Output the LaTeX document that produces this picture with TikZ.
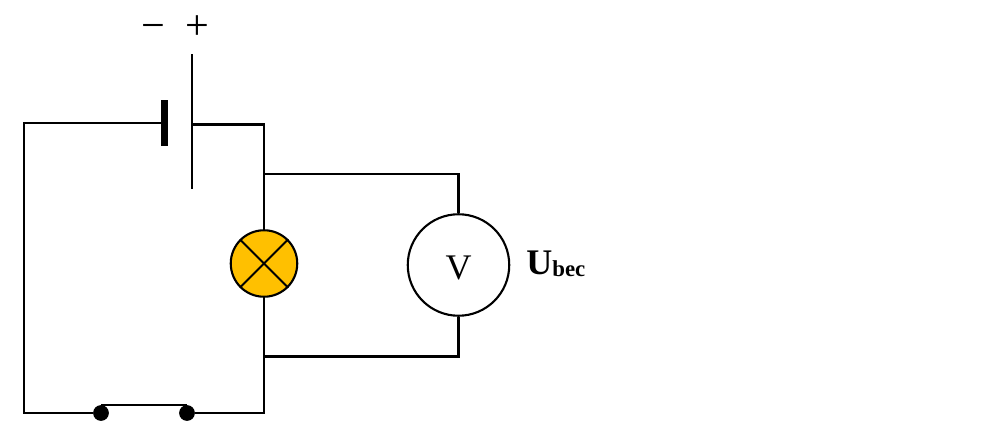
\documentclass[tikz,border=0pt]{standalone}
\usepackage{fontspec}
\setmainfont{Liberation Serif}
\usetikzlibrary{positioning}

\definecolor{lampfill}{HTML}{FFC000}

\begin{document}
\begin{tikzpicture}[
  x=0.02cm, y=-0.02cm,
  wire/.style={line width=0.042cm, line join=miter},
  plate/.style={draw=none, fill=black, inner sep=0pt},
  contact/.style={circle, fill=black, inner sep=0pt, minimum size=0.315cm},
  lamp/.style={circle, draw, line width=0.042cm, fill=lampfill, inner sep=0pt, minimum size=1.33cm},
  meter/.style={circle, draw, line width=0.042cm, fill=white, inner sep=0pt, minimum size=2.03cm, font=\fontsize{20.5pt}{24pt}\selectfont},
  sign/.style={inner sep=0pt, font=\fontsize{24pt}{28pt}\selectfont}
]
\useasboundingbox (0,0) rectangle (1000,438);

\node (neg) [plate, minimum width=0.14cm, minimum height=0.92cm] at (164.5,123) {};
\node (pos) [plate, minimum width=0.04cm, minimum height=2.7cm] at (192,121.5) {};
\node (bulb) [lamp] at (264,263.5) {};
\node (volt) [meter] at (458.5,265) {\raisebox{-8pt}[0pt][0pt]{V}};
\node (swa) [contact] at (101,413) {};
\node (swb) [contact] at (187,413) {};

\node (minus) [sign] at (153,32) {−};
\node (plus) [sign] at (197,28) {+};
\node (ubec) [inner sep=0pt, anchor=base west, font=\bfseries\fontsize{20.5pt}{24pt}\selectfont] at (526,274.5) {U\fontsize{13pt}{16pt}\selectfont\raisebox{-1pt}{bec}};

\coordinate (tl) at (24,123);
\coordinate (bl) at (24,413);
\coordinate (tr) at (264,124.5);
\coordinate (br) at (264,413);
\coordinate (ja) at (264,174);
\coordinate (jb) at (264,356.5);
\coordinate (ma) at (458.5,174);
\coordinate (mb) at (458.5,356.5);

% outer loop
\draw[wire] (neg.west) -- (tl) -- (bl) -- (swa);
\draw[wire] (pos.center |- tr) -- (tr) -- (bulb.north);
\draw[wire] (bulb.south) -- (br) -- (swb);
\draw[wire] (swa.north) -- (swb.north);

% voltmeter branch
\draw[wire] (ja) -- (ma) -- (volt.north);
\draw[wire] (jb) -- (mb) -- (volt.south);

% lamp cross
\draw[wire] (bulb.north west) -- (bulb.south east);
\draw[wire] (bulb.north east) -- (bulb.south west);

\end{tikzpicture}
\end{document}
